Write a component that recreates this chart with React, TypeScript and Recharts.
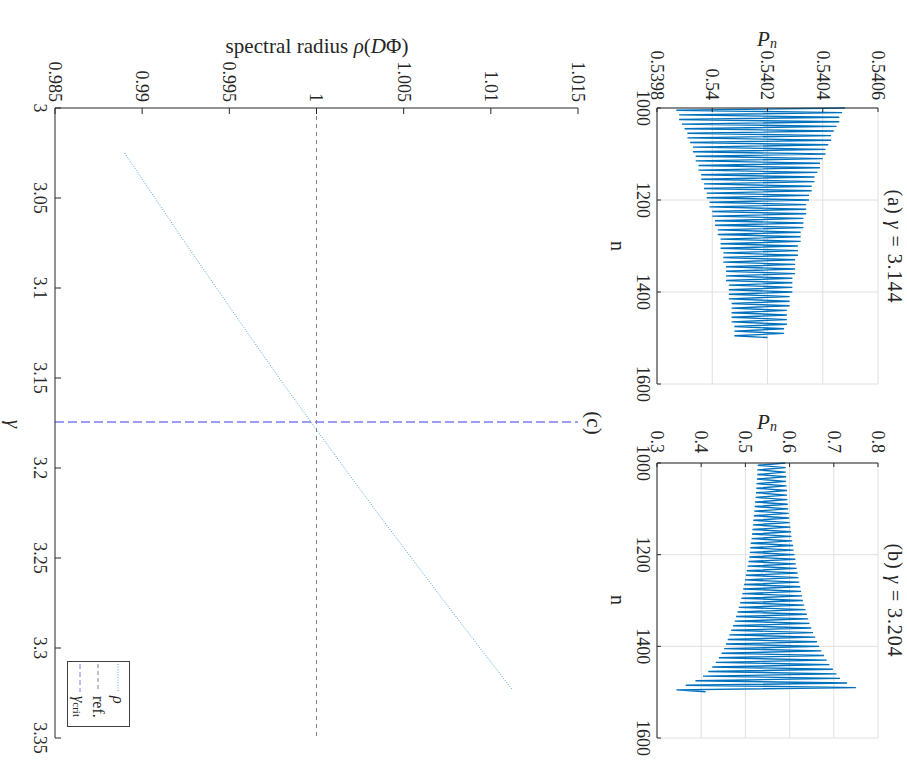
import React from "react";
import {
  LineChart,
  Line,
  XAxis,
  YAxis,
  CartesianGrid,
  ReferenceLine,
  Legend,
} from "recharts";

const FONT = "Liberation Serif, serif";
const INK = "#262626";
const BLUE = "#0072BD";
const RHO_COLOR = "#4DA3E6";
const REF_COLOR = "#808080";
const CRIT_COLOR = "#7C7CF5";

// shared n axis for panels (a) and (b)
const nTicks = [1000, 1200, 1400, 1600];
const nLabels = ["1000", "1200", "1400", "1600"];
const nFirst = 1000;
const nStep = 5;

// (a) gamma = 3.144 : upper turning points (n = 1000, 1010, ...) and lower ones (n = 1005, 1015, ...)
const highsA = [
  0.54048, 0.54047, 0.54046, 0.54046, 0.54045, 0.54044, 0.54043, 0.54043, 0.54042, 0.54041,
  0.54041, 0.5404, 0.54039, 0.54039, 0.54038, 0.54037, 0.54037, 0.54036, 0.54036, 0.54035,
  0.54035, 0.54034, 0.54034, 0.54034, 0.54033, 0.54033, 0.54033, 0.54032, 0.54032, 0.54032,
  0.54031, 0.54031, 0.54031, 0.5403, 0.5403, 0.5403, 0.5403, 0.54029, 0.54029, 0.54029,
  0.54029, 0.54028, 0.54028, 0.54028, 0.54027, 0.54027, 0.54027, 0.54027, 0.54026, 0.54026,
];
const lowsA = [
  0.53987, 0.53988, 0.53988, 0.53989, 0.5399, 0.53991, 0.53991, 0.53992, 0.53993, 0.53993,
  0.53994, 0.53994, 0.53995, 0.53995, 0.53996, 0.53996, 0.53997, 0.53997, 0.53998, 0.53998,
  0.53999, 0.53999, 0.54, 0.54, 0.54001, 0.54001, 0.54002, 0.54002, 0.54003, 0.54003,
  0.54003, 0.54004, 0.54004, 0.54004, 0.54005, 0.54005, 0.54005, 0.54005, 0.54006, 0.54006,
  0.54006, 0.54006, 0.54007, 0.54007, 0.54007, 0.54007, 0.54007, 0.54008, 0.54008, 0.54008,
];
const lastA = 0.5402;
const pTicksA = [0.5398, 0.54, 0.5402, 0.5404, 0.5406];
const pLabelsA = ["0.5398", "0.54", "0.5402", "0.5404", "0.5406"];

// (b) gamma = 3.204
const highsB = [
  0.59, 0.591, 0.591, 0.592, 0.592, 0.593, 0.594, 0.594, 0.595, 0.596,
  0.597, 0.598, 0.599, 0.6, 0.602, 0.603, 0.604, 0.606, 0.608, 0.609,
  0.611, 0.613, 0.614, 0.616, 0.618, 0.62, 0.622, 0.624, 0.626, 0.628,
  0.63, 0.633, 0.636, 0.639, 0.642, 0.645, 0.649, 0.653, 0.658, 0.662,
  0.667, 0.672, 0.678, 0.684, 0.69, 0.698, 0.706, 0.714, 0.73, 0.75,
];
const lowsB = [
  0.528, 0.527, 0.527, 0.526, 0.525, 0.525, 0.524, 0.523, 0.522, 0.521,
  0.52, 0.519, 0.518, 0.517, 0.516, 0.515, 0.514, 0.512, 0.511, 0.51,
  0.509, 0.507, 0.505, 0.503, 0.501, 0.499, 0.497, 0.495, 0.493, 0.491,
  0.488, 0.485, 0.482, 0.479, 0.476, 0.472, 0.468, 0.464, 0.46, 0.456,
  0.452, 0.446, 0.44, 0.433, 0.425, 0.416, 0.404, 0.387, 0.365, 0.344,
];
const lastB = 0.41;
const pTicksB = [0.3, 0.4, 0.5, 0.6, 0.7, 0.8];
const pLabelsB = ["0.3", "0.4", "0.5", "0.6", "0.7", "0.8"];

// (c) spectral radius against gamma
const gammas = [3.025, 3.05, 3.075, 3.1, 3.125, 3.15, 3.175, 3.2, 3.225, 3.25, 3.275, 3.3, 3.3235];
const rhos = [
  0.989, 0.99073, 0.99248, 0.99426, 0.99605, 0.99786, 0.99972, 1.0016, 1.0035, 1.00545,
  1.0074, 1.00938, 1.01126,
];
const gammaCrit = 3.1744;
const rhoRef = 1;
const gammaTicks = [3, 3.05, 3.1, 3.15, 3.2, 3.25, 3.3, 3.35];
const gammaLabels = ["3", "3.05", "3.1", "3.15", "3.2", "3.25", "3.3", "3.35"];
const rhoTicks = [0.985, 0.99, 0.995, 1, 1.005, 1.01, 1.015];
const rhoLabels = ["0.985", "0.99", "0.995", "1", "1.005", "1.01", "1.015"];

function zigzag(highs: number[], lows: number[], last: number) {
  const rows: { n: number; p: number }[] = [];
  highs.forEach((h, i) => {
    rows.push({ n: nFirst + 2 * i * nStep, p: h });
    rows.push({ n: nFirst + (2 * i + 1) * nStep, p: lows[i] });
  });
  rows.push({ n: nFirst + 2 * highs.length * nStep - 1, p: last });
  return rows;
}

const dataA = zigzag(highsA, lowsA, lastA);
const dataB = zigzag(highsB, lowsB, lastB);
const dataC = gammas.map((g, i) => ({ g, r: rhos[i] }));

const TICK_SIZE = 18;
const axisLine = { stroke: INK, strokeWidth: 1 };

// tick labels drawn by hand so the font is exactly what we ask for
function tickText(ticks: number[], labels: string[], side: "bottom" | "left") {
  return (p: any) => (
    <text
      x={p.x}
      y={p.y}
      dy={side === "bottom" ? "0.72em" : "0.34em"}
      textAnchor={side === "bottom" ? "middle" : "end"}
      fontFamily={FONT}
      fontSize={TICK_SIZE}
      fill={INK}
    >
      {labels[ticks.indexOf(p.payload.value)] ?? String(p.payload.value)}
    </text>
  );
}

interface PanelProps {
  left: number;
  width: number;
  marginLeft: number;
  marginRight: number;
  yWidth: number;
  yTickMargin: number;
  data: { n: number; p: number }[];
  yTicks: number[];
  yLabels: string[];
}

function PanelPn(props: PanelProps) {
  const { left, width, marginLeft, marginRight, yWidth, yTickMargin, data, yTicks, yLabels } = props;
  const yDomain = [yTicks[0], yTicks[yTicks.length - 1]];
  return (
    <div style={{ position: "absolute", left, top: 0 }}>
      <LineChart
        width={width}
        height={300}
        data={data}
        margin={{ top: 29, right: marginRight, bottom: 20, left: marginLeft }}
      >
        <CartesianGrid stroke="#e0e0e0" />
        <XAxis
          dataKey="n"
          type="number"
          domain={[1000, 1600]}
          ticks={nTicks}
          interval={0}
          height={30}
          tickSize={-4}
          tickMargin={11}
          tick={tickText(nTicks, nLabels, "bottom")}
          axisLine={axisLine}
          tickLine={axisLine}
        />
        <XAxis
          xAxisId="top"
          orientation="top"
          dataKey="n"
          type="number"
          domain={[1000, 1600]}
          ticks={nTicks}
          interval={0}
          height={0}
          tickSize={-4}
          tick={false}
          axisLine={axisLine}
          tickLine={axisLine}
        />
        <YAxis
          type="number"
          domain={yDomain}
          ticks={yTicks}
          interval={0}
          allowDataOverflow
          width={yWidth}
          tickSize={-4}
          tickMargin={yTickMargin}
          tick={tickText(yTicks, yLabels, "left")}
          axisLine={axisLine}
          tickLine={axisLine}
        />
        <YAxis
          yAxisId="right"
          orientation="right"
          type="number"
          domain={yDomain}
          ticks={yTicks}
          interval={0}
          width={0}
          tickSize={-4}
          tick={false}
          axisLine={axisLine}
          tickLine={axisLine}
        />
        <Line
          dataKey="p"
          stroke={BLUE}
          strokeWidth={1.4}
          dot={false}
          isAnimationActive={false}
        />
      </LineChart>
    </div>
  );
}

function RhoLegend() {
  return (
    <svg width={66} height={63} style={{ display: "block" }} fontFamily={FONT} fill={INK}>
      <rect x={0.5} y={0.5} width={65} height={62} fill="#fff" stroke="#404040" />
      <line x1={3} x2={31} y1={12} y2={12} stroke={RHO_COLOR} strokeDasharray="1 1.6" />
      <text x={35} y={12} dominantBaseline="central" fontSize={16} fontStyle="italic">ρ</text>
      <line x1={3} x2={31} y1={32} y2={32} stroke={REF_COLOR} strokeDasharray="4 3" />
      <text x={35} y={32} dominantBaseline="central" fontSize={16}>ref.</text>
      <line x1={3} x2={31} y1={50} y2={50} stroke={CRIT_COLOR} strokeDasharray="5 3" />
      <text x={35} y={50} dominantBaseline="central" fontSize={16}>
        <tspan fontStyle="italic">γ</tspan>
        <tspan fontSize={11} dy={3}>crit</tspan>
      </text>
    </svg>
  );
}

function PanelRho() {
  return (
    <div style={{ position: "absolute", left: 0, top: 300 }}>
      <LineChart
        width={783}
        height={607}
        data={dataC}
        margin={{ top: 29, right: 45, bottom: 25, left: 48 }}
      >
        <XAxis
          dataKey="g"
          type="number"
          domain={[3, 3.35]}
          ticks={gammaTicks}
          interval={0}
          height={30}
          tickSize={-6}
          tickMargin={14}
          tick={tickText(gammaTicks, gammaLabels, "bottom")}
          axisLine={axisLine}
          tickLine={axisLine}
        />
        <XAxis
          xAxisId="top"
          orientation="top"
          dataKey="g"
          type="number"
          domain={[3, 3.35]}
          ticks={gammaTicks}
          interval={0}
          height={0}
          tickSize={-6}
          tick={false}
          axisLine={axisLine}
          tickLine={axisLine}
        />
        <YAxis
          type="number"
          domain={[0.985, 1.015]}
          ticks={rhoTicks}
          interval={0}
          width={60}
          tickSize={-6}
          tickMargin={12}
          tick={tickText(rhoTicks, rhoLabels, "left")}
          axisLine={axisLine}
          tickLine={axisLine}
        />
        <YAxis
          yAxisId="right"
          orientation="right"
          type="number"
          domain={[0.985, 1.015]}
          ticks={rhoTicks}
          interval={0}
          width={0}
          tickSize={-6}
          tick={false}
          axisLine={axisLine}
          tickLine={axisLine}
        />
        <ReferenceLine y={rhoRef} stroke={REF_COLOR} strokeDasharray="4 4" />
        <ReferenceLine x={gammaCrit} stroke={CRIT_COLOR} strokeWidth={1.5} strokeDasharray="9 4" />
        <Line
          dataKey="r"
          stroke={RHO_COLOR}
          strokeWidth={1}
          strokeDasharray="1 1.6"
          dot={false}
          isAnimationActive={false}
        />
        <Legend
          layout="vertical"
          align="center"
          verticalAlign="middle"
          content={() => <RhoLegend />}
          wrapperStyle={{ left: 661, top: 477, width: 66, height: 63 }}
        />
      </LineChart>
    </div>
  );
}

export default function App() {
  return (
    <div
      style={{
        position: "absolute",
        left: 0,
        top: 0,
        width: 907,
        height: 783,
        overflow: "hidden",
        background: "#fff",
      }}
    >
      {/* the whole figure is laid out upright and then turned a quarter clockwise */}
      <div
        style={{
          position: "absolute",
          left: 0,
          top: 0,
          width: 783,
          height: 907,
          transformOrigin: "0 0",
          transform: "translate(907px, 0px) rotate(90deg)",
          fontFamily: FONT,
        }}
      >
        <PanelPn
          left={400}
          width={383}
          marginLeft={13}
          marginRight={45}
          yWidth={50}
          yTickMargin={14}
          data={dataB}
          yTicks={pTicksB}
          yLabels={pLabelsB}
        />
        <PanelPn
          left={0}
          width={430}
          marginLeft={48}
          marginRight={46}
          yWidth={60}
          yTickMargin={12}
          data={dataA}
          yTicks={pTicksA}
          yLabels={pLabelsA}
        />
        <PanelRho />
        <svg
          width={783}
          height={907}
          style={{ position: "absolute", left: 0, top: 0, pointerEvents: "none" }}
          fontFamily={FONT}
          fill={INK}
        >
          <text x={246} y={19} textAnchor="middle" fontSize={20} textLength={113} lengthAdjust="spacing">
            (a) <tspan fontStyle="italic">γ</tspan> = 3.144
          </text>
          <text x={600} y={19} textAnchor="middle" fontSize={20} textLength={113} lengthAdjust="spacing">
            (b) <tspan fontStyle="italic">γ</tspan> = 3.204
          </text>
          <text x={246} y={296} textAnchor="middle" fontSize={20}>n</text>
          <text x={600} y={296} textAnchor="middle" fontSize={20}>n</text>
          <g transform="translate(39,140) rotate(-90)">
            <text x={0} y={0} textAnchor="middle" dominantBaseline="central" fontSize={21}>
              <tspan fontStyle="italic">P</tspan>
              <tspan fontStyle="italic" fontSize={14} dy={4}>n</tspan>
            </text>
          </g>
          <g transform="translate(422,140) rotate(-90)">
            <text x={0} y={0} textAnchor="middle" dominantBaseline="central" fontSize={21}>
              <tspan fontStyle="italic">P</tspan>
              <tspan fontStyle="italic" fontSize={14} dy={4}>n</tspan>
            </text>
          </g>
          <text x={423} y={320} textAnchor="middle" fontSize={21}>(c)</text>
          <text x={424} y={893} textAnchor="middle" dominantBaseline="central" fontSize={21} fontStyle="italic">γ</text>
          <g transform="translate(46,590) rotate(-90)">
            <text x={0} y={0} textAnchor="middle" dominantBaseline="central" fontSize={21} textLength={183} lengthAdjust="spacing">
              spectral radius <tspan fontStyle="italic">ρ</tspan>(<tspan fontStyle="italic">D</tspan>Φ)
            </text>
          </g>
        </svg>
      </div>
    </div>
  );
}
